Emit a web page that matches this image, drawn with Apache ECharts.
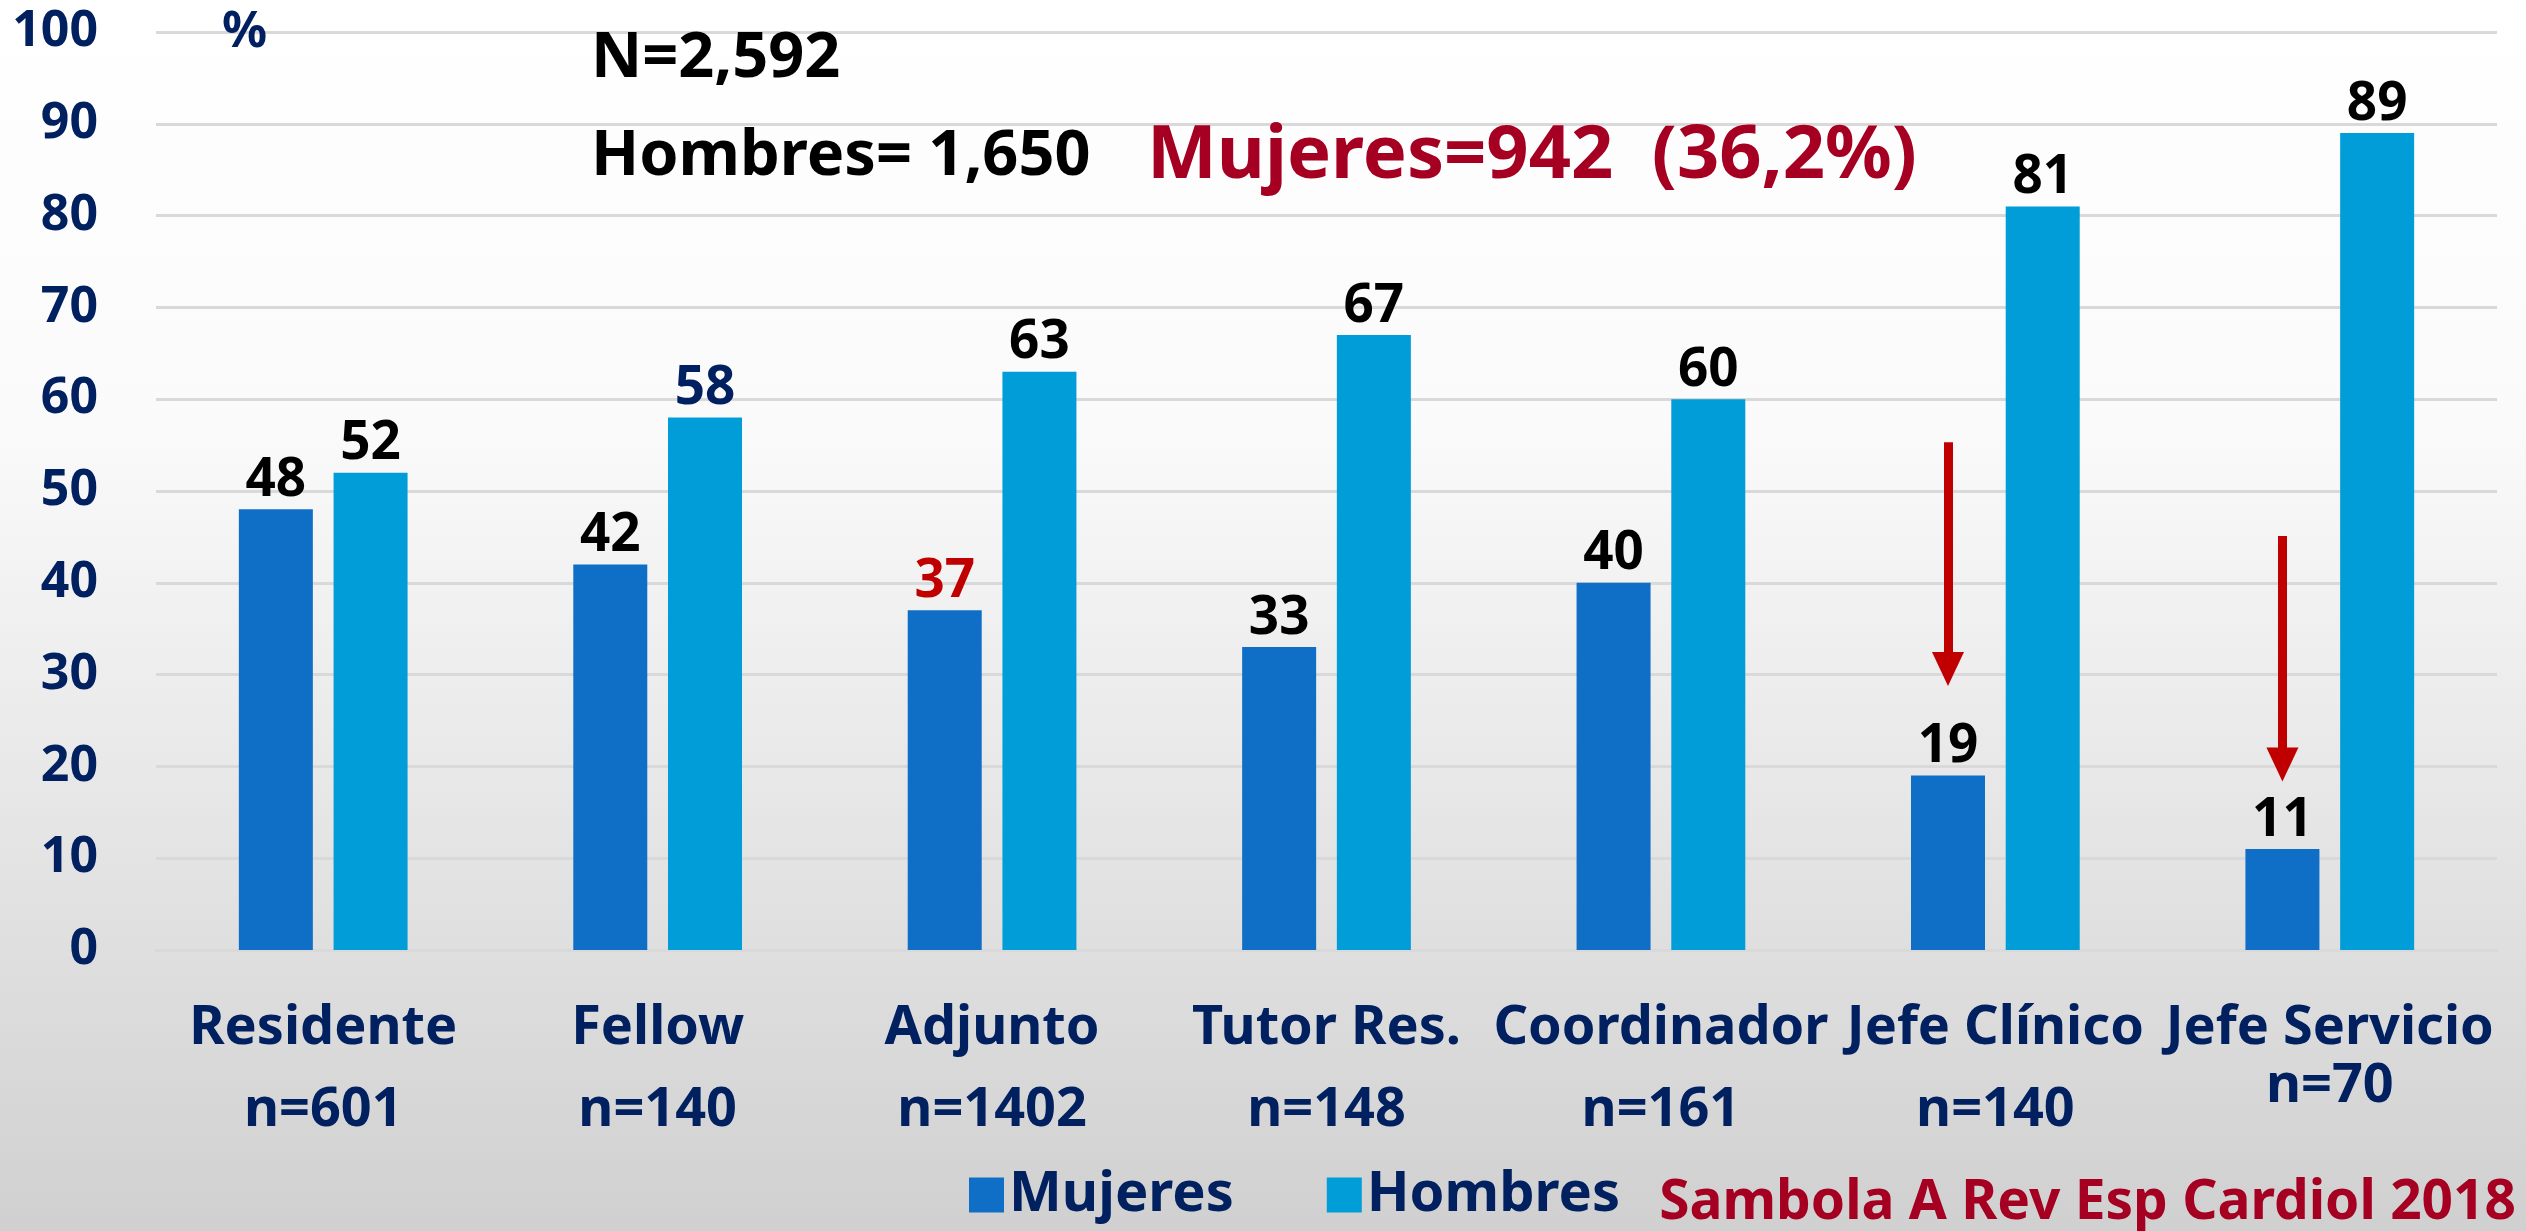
<!DOCTYPE html>
<html>
<head>
<meta charset="utf-8">
<title>Mujeres y hombres por cargo</title>
<script src="https://cdn.jsdelivr.net/npm/echarts@6/dist/echarts.min.js"></script>
<style>
  html, body { margin: 0; padding: 0; }
  #chart { width: 2526px; height: 1231px; }
</style>
</head>
<body>
<div id="chart"></div>
<script>
// datos
const categorias = ['Residente', 'Fellow', 'Adjunto', 'Tutor Res.', 'Coordinador', 'Jefe Clínico', 'Jefe Servicio']
const tamanos = ['n=601', 'n=140', 'n=1402', 'n=148', 'n=161', 'n=140', 'n=70']
const mujeres = [48, 42, 37, 33, 40, 19, 11]
const hombres = [52, 58, 63, 67, 60, 81, 89]
const yTicks = [0, 10, 20, 30, 40, 50, 60, 70, 80, 90, 100]
// flechas (categoria, desde, hasta) en %
const flechaCat = ['Jefe Clínico', 'Jefe Servicio']
const flechaDesde = [55.3, 45.1]
const flechaHasta = [30.6, 20.2]

const FONT = "'Noto Sans', sans-serif"
const NAVY = '#002060'
const RED = '#A50021'

// etiquetas con otro color
const colorEtiqueta = {
  Mujeres: { 2: '#C00000' },
  Hombres: { 1: NAVY }
}

function serie (name, values, color) {
  return {
    name,
    type: 'bar',
    barWidth: 74,
    barGap: '28%',
    itemStyle: { color },
    label: {
      show: true,
      position: 'top',
      distance: 2,
      color: '#000',
      fontFamily: FONT,
      fontWeight: 'bold',
      fontSize: 53
    },
    data: values.map((v, i) => {
      const c = (colorEtiqueta[name] || {})[i]
      return c ? { value: v, label: { color: c } } : v
    })
  }
}

const serieMujeres = serie('Mujeres', mujeres, '#0F6FC6')
serieMujeres.markLine = {
  silent: true,
  symbol: ['none', 'triangle'],
  symbolSize: [32, 34],
  label: { show: false },
  lineStyle: { color: '#C00000', width: 9, type: 'solid' },
  data: flechaCat.map((c, i) => [
    { coord: [c, flechaDesde[i]] },
    { coord: [c, flechaHasta[i]] }
  ])
}

const textoTitulo = { fontFamily: FONT, fontWeight: 'bold' }

const chart = echarts.init(document.getElementById('chart'))
chart.setOption({
  animation: false,
  backgroundColor: {
    type: 'linear', x: 0, y: 0, x2: 0, y2: 1,
    colorStops: [
      { offset: 0, color: '#ffffff' },
      { offset: 0.35, color: '#fafafa' },
      { offset: 1, color: '#d0d0d0' }
    ]
  },
  grid: { left: 156, right: 29, top: 32, bottom: 281 },
  legend: {
    left: 964,
    top: 1162,
    icon: 'rect',
    itemWidth: 35,
    itemHeight: 35,
    itemGap: 93,
    textStyle: { color: NAVY, fontFamily: FONT, fontWeight: 'bold', fontSize: 56 },
    data: ['Mujeres', 'Hombres']
  },
  xAxis: {
    type: 'category',
    data: categorias,
    axisTick: { show: false },
    axisLine: { lineStyle: { color: '#d9d9d9', width: 3 } },
    axisLabel: {
      interval: 0,
      margin: 38,
      formatter: (v, i) => '{a|' + v + '}\n' + (i === categorias.length - 1 ? '{c|' : '{b|') + tamanos[i] + '}',
      rich: {
        a: { color: NAVY, fontFamily: FONT, fontWeight: 'bold', fontSize: 54, lineHeight: 82 },
        b: { color: NAVY, fontFamily: FONT, fontWeight: 'bold', fontSize: 54, lineHeight: 82 },
        c: { color: NAVY, fontFamily: FONT, fontWeight: 'bold', fontSize: 54, lineHeight: 34 }
      }
    }
  },
  yAxis: {
    type: 'value',
    min: yTicks[0],
    max: yTicks[yTicks.length - 1],
    interval: yTicks[1] - yTicks[0],
    axisLine: { show: false },
    axisTick: { show: false },
    splitLine: { lineStyle: { color: '#d9d9d9', width: 3 } },
    axisLabel: { margin: 58, color: NAVY, fontFamily: FONT, fontWeight: 'bold', fontSize: 50 }
  },
  graphic: [
    { type: 'text', z: 100, left: 222, top: 8, style: Object.assign({ text: '%', fill: NAVY, fontSize: 50 }, textoTitulo) },
    { type: 'text', z: 100, left: 591, top: 28, style: Object.assign({ text: 'N=2,592', fill: '#000', fontSize: 63 }, textoTitulo) },
    { type: 'text', z: 100, left: 591, top: 126, style: Object.assign({ text: 'Hombres= 1,650', fill: '#000', fontSize: 63 }, textoTitulo) },
    { type: 'text', z: 100, left: 1147, top: 120, style: Object.assign({ text: 'Mujeres=942  (36,2%)', fill: RED, fontSize: 74 }, textoTitulo) },
    { type: 'text', z: 100, right: 10, top: 1176, style: Object.assign({ text: 'Sambola A Rev Esp Cardiol 2018', fill: RED, fontSize: 55 }, textoTitulo) }
  ],
  series: [
    serieMujeres,
    serie('Hombres', hombres, '#009DD9')
  ]
})
</script>
</body>
</html>
